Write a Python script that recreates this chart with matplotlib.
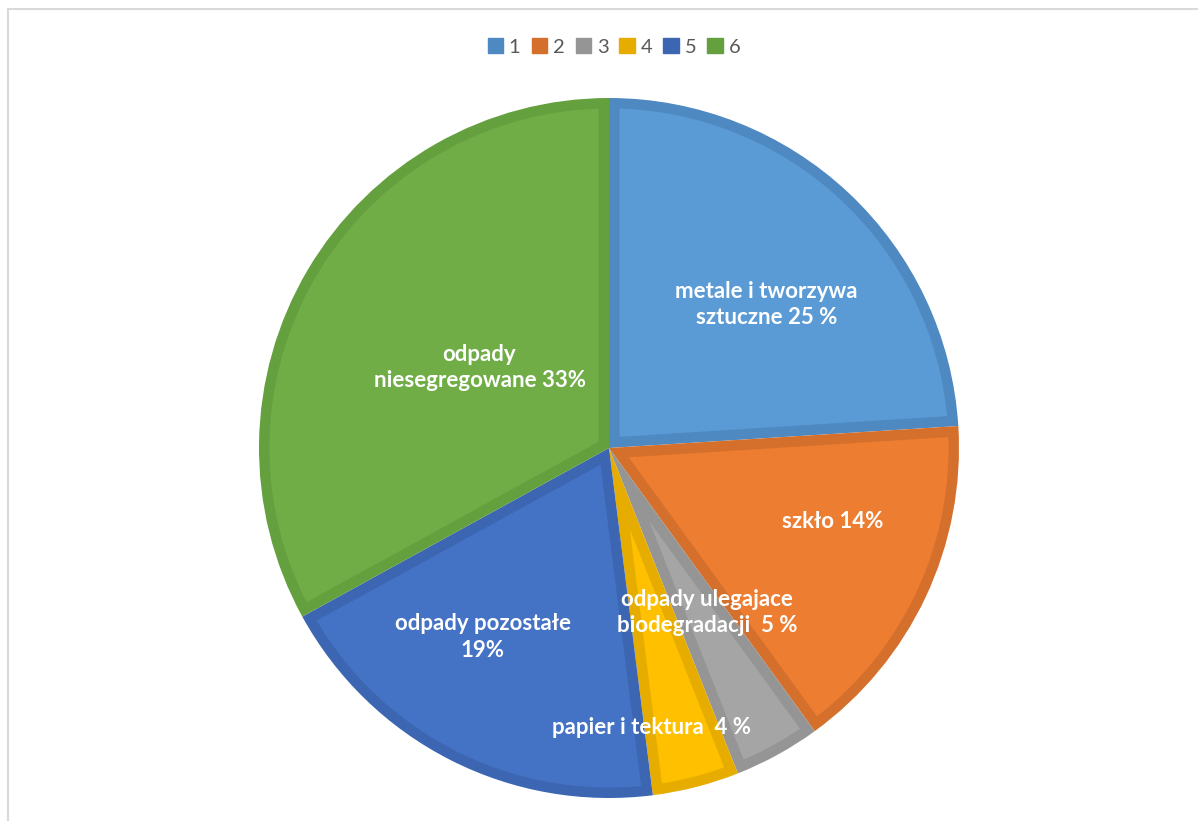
import numpy as np
import matplotlib.pyplot as plt
from matplotlib.patches import Rectangle, Patch, Polygon

# slice shares (clockwise from 12 o'clock)
values = [24, 16, 4, 4, 19, 33]
legend_labels = ['1', '2', '3', '4', '5', '6']
slice_labels = ['metale i tworzywa\nsztuczne 25 %',
                'szkło 14%',
                'odpady ulegajace\nbiodegradacji  5 %',
                'papier i tektura  4 %',
                'odpady pozostałe\n19%',
                'odpady\nniesegregowane 33%']
fill_colors = ['#5B9BD5', '#ED7D31', '#A5A5A5', '#FFC000', '#4472C4', '#70AD47']
edge_colors = ['#4E89C2', '#D5702C', '#959595', '#E6AD00', '#3C66B2', '#64A03E']
# label centres in pie units (radius = 1)
label_pos = [(0.45, 0.41), (0.64, -0.21), (0.28, -0.47),
             (0.12, -0.80), (-0.36, -0.54), (-0.37, 0.23)]
band = 0.03  # width of the darker rim inside each slice


def inset_wedge(t1, t2, r, d):
    # wedge from t1 to t2 (deg, ccw) shrunk by d on every side
    a1, a2 = np.radians(t1), np.radians(t2)
    u1 = np.array([np.cos(a1), np.sin(a1)])
    u2 = np.array([np.cos(a2), np.sin(a2)])
    n1 = np.array([-u1[1], u1[0]])
    n2 = np.array([u2[1], -u2[0]])
    apex = np.linalg.solve(np.array([n1, n2]), np.array([d, d]))
    rr = r - d
    s = np.sqrt(rr ** 2 - d ** 2)
    p1 = d * n1 + s * u1
    p2 = d * n2 + s * u2
    b1 = np.arctan2(p1[1], p1[0])
    b2 = np.arctan2(p2[1], p2[0])
    while b2 < b1:
        b2 += 2 * np.pi
    arc = np.linspace(b1, b2, 200)
    pts = [apex] + [np.array([rr * np.cos(a), rr * np.sin(a)]) for a in arc]
    return np.array(pts)


plt.rcParams['font.family'] = ['Lato', 'DejaVu Sans']

fig = plt.figure(figsize=(11.98, 8.21), dpi=100)
fig.patches.append(Rectangle((7.5 / 1198, -0.1), 1.2, 1 - 9.5 / 821 + 0.1,
                             transform=fig.transFigure, fill=False,
                             edgecolor='#d9d9d9', linewidth=1.5))

ax = fig.add_axes([259 / 1198, 23 / 821, 700 / 1198, 700 / 821])
wedges, _ = ax.pie(values, colors=edge_colors, startangle=90, counterclock=False,
                   radius=1, wedgeprops=dict(linewidth=0))
for w, fc in zip(wedges, fill_colors):
    pts = inset_wedge(w.theta1, w.theta2, w.r, band)
    ax.add_patch(Polygon(pts, closed=True, facecolor=fc, edgecolor='none'))

for (x, y), txt in zip(label_pos, slice_labels):
    ax.text(x, y, txt, ha='center', va='center', color='white',
            fontsize=16, fontweight='bold', linespacing=1.3)

ax.set_xlim(-1, 1)
ax.set_ylim(-1, 1)
ax.set_aspect('equal')
ax.axis('off')

handles = [Patch(facecolor=c, edgecolor=c) for c in edge_colors]
fig.legend(handles, legend_labels, loc='center', bbox_to_anchor=(614 / 1198, 1 - 47 / 821),
           ncol=6, frameon=False, fontsize=14.5, labelcolor='#595959',
           handlelength=0.75, handleheight=0.75, handletextpad=0.3,
           columnspacing=0.55)

fig.savefig('out.png', dpi=100)
